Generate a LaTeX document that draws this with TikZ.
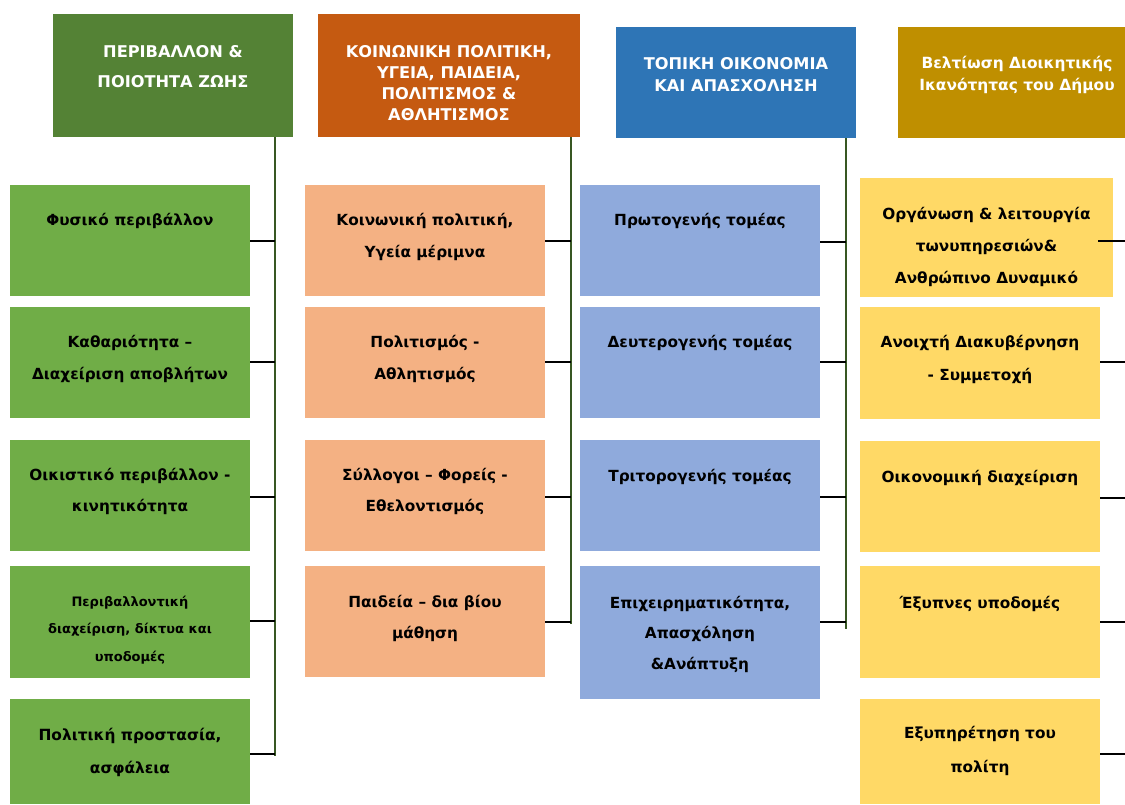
\documentclass[tikz,border=0pt]{standalone}
\usepackage{fontspec}
\setmainfont{DejaVu Sans}
\definecolor{hgreen}{HTML}{548235}
\definecolor{horange}{HTML}{C55A11}
\definecolor{hblue}{HTML}{2E75B6}
\definecolor{hgold}{HTML}{BF8F00}
\definecolor{lgreen}{HTML}{70AD47}
\definecolor{lorange}{HTML}{F4B183}
\definecolor{lblue}{HTML}{8FAADC}
\definecolor{lyellow}{HTML}{FFD966}
\definecolor{trunkc}{HTML}{385723}
% #1 height, #2 width, #3 first baseline, #4 font size, #5 line skip, #6 text
\newcommand\bxt[6]{\parbox[c][#1pt][t]{#2pt}{\centering\fontsize{#4}{#5}\selectfont\bfseries\rule{0pt}{#3pt}#6\par}}
\tikzset{
  cell/.style={inner sep=0pt, outer sep=0pt, anchor=north west},
  head/.style={cell, text=white},
  item/.style={cell, text=black},
  trunk/.style={draw=trunkc, line width=1.8pt},
  twig/.style={draw=black, line width=1.6pt},
}
\begin{document}
\begin{tikzpicture}[x=1pt,y=-1pt]
\useasboundingbox (0,0) rectangle (1125,804);
% headers
\node[head, fill=hgreen] (h1) at (53,14) {\bxt{123}{240}{43.5}{16.2}{30}{ΠΕΡΙΒΑΛΛΟΝ \&\\ΠΟΙΟΤΗΤΑ ΖΩΗΣ}};
\node[head, fill=horange] (h2) at (318,14) {\bxt{123}{262}{43.5}{16.2}{21}{ΚΟΙΝΩΝΙΚΗ ΠΟΛΙΤΙΚΗ,\\ΥΓΕΙΑ, ΠΑΙΔΕΙΑ,\\ΠΟΛΙΤΙΣΜΟΣ \&\\ΑΘΛΗΤΙΣΜΟΣ}};
\node[head, fill=hblue] (h3) at (616,27) {\bxt{111}{240}{42}{16.2}{22}{ΤΟΠΙΚΗ ΟΙΚΟΝΟΜΙΑ\\ΚΑΙ ΑΠΑΣΧΟΛΗΣΗ}};
\node[head, fill=hgold] (h4) at (898,27) {\bxt{111}{238}{41.5}{15.4}{22}{Βελτίωση Διοικητικής\\Ικανότητας του Δήμου}};
% column 1
\node[item, fill=lgreen] (g1) at (10,185) {\bxt{111}{240}{40.5}{15.3}{32}{Φυσικό περιβάλλον}};
\node[item, fill=lgreen] (g2) at (10,307) {\bxt{111}{240}{40.5}{15.3}{32}{Καθαριότητα –\\Διαχείριση αποβλήτων}};
\node[item, fill=lgreen] (g3) at (10,440) {\bxt{111}{240}{40.5}{15.3}{31}{Οικιστικό περιβάλλον -\\κινητικότητα}};
\node[item, fill=lgreen] (g4) at (10,566) {\bxt{112}{240}{40}{13}{27.5}{Περιβαλλοντική\\διαχείριση, δίκτυα και\\υποδομές}};
\node[item, fill=lgreen] (g5) at (10,699) {\bxt{105}{240}{41}{15.4}{33}{Πολιτική προστασία,\\ασφάλεια}};
% column 2
\node[item, fill=lorange] (o1) at (305,185) {\bxt{111}{240}{40.5}{15.3}{32}{Κοινωνική πολιτική,\\Υγεία μέριμνα}};
\node[item, fill=lorange] (o2) at (305,307) {\bxt{111}{240}{40.5}{15.3}{32}{Πολιτισμός -\\Αθλητισμός}};
\node[item, fill=lorange] (o3) at (305,440) {\bxt{111}{240}{40.5}{15.3}{31}{Σύλλογοι – Φορείς -\\Εθελοντισμός}};
\node[item, fill=lorange] (o4) at (305,566) {\bxt{111}{240}{41.5}{15.3}{31}{Παιδεία – δια βίου\\μάθηση}};
% column 3
\node[item, fill=lblue] (b1) at (580,185) {\bxt{111}{240}{40.5}{15.3}{32}{Πρωτογενής τομέας}};
\node[item, fill=lblue] (b2) at (580,307) {\bxt{111}{240}{40.5}{15.3}{32}{Δευτερογενής τομέας}};
\node[item, fill=lblue] (b3) at (580,440) {\bxt{111}{240}{41}{15.3}{32}{Τριτορογενής τομέας}};
\node[item, fill=lblue] (b4) at (580,566) {\bxt{133}{240}{42}{15.3}{30.5}{Επιχειρηματικότητα,\\Απασχόληση\\\&Ανάπτυξη}};
% column 4
\node[item, fill=lyellow] (y1) at (860,178) {\bxt{119}{253}{41}{15.3}{32}{Οργάνωση \& λειτουργία\\τωνυπηρεσιών\&\\Ανθρώπινο Δυναμικό}};
\node[item, fill=lyellow] (y2) at (860,307) {\bxt{112}{240}{40.5}{15.3}{33}{Ανοιχτή Διακυβέρνηση\\- Συμμετοχή}};
\node[item, fill=lyellow] (y3) at (860,441) {\bxt{111}{240}{41}{15.3}{32}{Οικονομική διαχείριση}};
\node[item, fill=lyellow] (y4) at (860,566) {\bxt{112}{240}{42}{15.3}{32}{Έξυπνες υποδομές}};
\node[item, fill=lyellow] (y5) at (860,699) {\bxt{105}{240}{39.5}{15.3}{34}{Εξυπηρέτηση του\\πολίτη}};
% trunk ends
\coordinate (t1) at (275,756);
\coordinate (t2) at (571,624);
\coordinate (t3) at (846,629);
\coordinate (t4) at (1125,754);
% trunks
\draw[trunk] (h1.south -| t1) -- (t1);
\draw[trunk] (h2.south -| t2) -- (t2);
\draw[trunk] (h3.south -| t3) -- (t3);
% twigs column 1
\draw[twig] (g1.east |- 0,241) -- (t1 |- 0,241);
\draw[twig] (g2.east |- 0,362) -- (t1 |- 0,362);
\draw[twig] (g3.east |- 0,497) -- (t1 |- 0,497);
\draw[twig] (g4.east |- 0,621) -- (t1 |- 0,621);
\draw[twig] (g5.east |- 0,754) -- (t1 |- 0,754);
% twigs column 2
\draw[twig] (o1.east |- 0,241) -- (t2 |- 0,241);
\draw[twig] (o2.east |- 0,362) -- (t2 |- 0,362);
\draw[twig] (o3.east |- 0,497) -- (t2 |- 0,497);
\draw[twig] (o4.east |- 0,622) -- (t2 |- 0,622);
% twigs column 3
\draw[twig] (b1.east |- 0,242) -- (t3 |- 0,242);
\draw[twig] (b2.east |- 0,362) -- (t3 |- 0,362);
\draw[twig] (b3.east |- 0,497) -- (t3 |- 0,497);
\draw[twig] (b4.east |- 0,622) -- (t3 |- 0,622);
% twigs column 4
\draw[twig] ([xshift=-15pt]y1.east |- 0,241) -- (t4 |- 0,241);
\draw[twig] (y2.east |- 0,362) -- (t4 |- 0,362);
\draw[twig] (y3.east |- 0,498) -- (t4 |- 0,498);
\draw[twig] (y4.east |- 0,622) -- (t4 |- 0,622);
\draw[twig] (y5.east |- 0,754) -- (t4 |- 0,754);
\end{tikzpicture}
\end{document}
